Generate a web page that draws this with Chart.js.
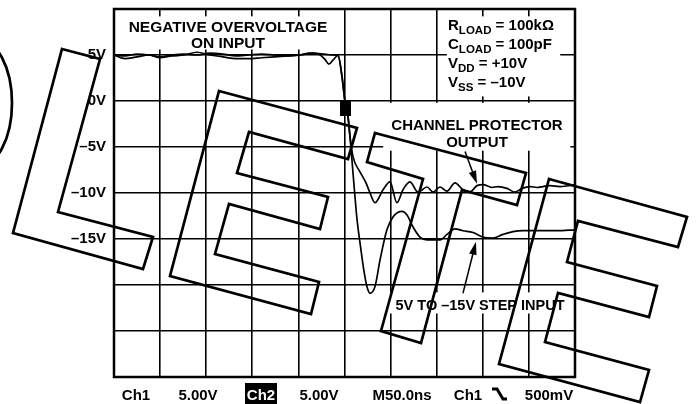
<!DOCTYPE html>
<html>
<head>
<meta charset="utf-8">
<script src="https://cdn.jsdelivr.net/npm/chart.js@4"></script>
<style>
body { margin: 0; background: #fff; }
</style>
</head>
<body>
<canvas id="scope" width="697" height="404"></canvas>
<script>
// scope trace, 50 ns/div across, 5 V/div up
var inputTimes = [0, 12, 25, 38, 50, 63, 76, 90, 104, 118, 132, 146, 160, 174, 188, 202, 216, 228, 238, 243,
  247.3, 250.5, 253.8, 256, 259.2, 263.6, 266.8, 271, 274.4, 277.7, 283, 288.5, 296, 302.6, 312.4, 317.8,
  324.3, 331.9, 339.5, 353.6, 361.2, 369.8, 378.5, 389.4, 400.2, 411, 422, 432.8, 443.6, 462, 480.5, 500];
var inputVolts = [5.0, 4.9, 5.1, 5.0, 4.8, 5.0, 5.1, 5.0, 5.2, 5.1, 4.9, 5.0, 5.1, 5.0, 4.9, 5.0, 5.2, 5.1, 5.0, 4.95,
  2.65, -0.07, -1.7, -3.9, -7.8, -12.9, -15.4, -18.4, -20.2, -20.9, -20.2, -17.3, -14.0, -12.6, -12.0, -12.4,
  -13.7, -14.8, -15.1, -15.1, -14.5, -13.9, -14.1, -14.3, -14.8, -14.9, -14.5, -14.2, -14.1, -14.1, -14.1, -14.0];

var outputTimes = [0, 12, 25, 38, 50, 63, 76, 90, 104, 118, 132, 146, 160, 174, 188, 202, 212, 222, 229, 233,
  238, 243, 247.3, 250.5, 253.8, 256, 259.2, 266.8, 273.3, 277.7, 283, 291.8, 299.3, 306.9, 313.4, 321,
  329.7, 339.5, 346, 353.6, 361.2, 369.8, 378.5, 386, 393.7, 400.2, 410, 416.5, 426.2, 434.9,
  442.5, 451.2, 458.8, 465.3, 472.9, 483.7, 500];
var outputVolts = [5.0, 4.6, 4.8, 5.0, 4.7, 4.9, 5.0, 5.3, 5.0, 4.8, 4.6, 4.6, 4.7, 4.8, 4.9, 5.0, 5.2, 5.1, 4.5, 4.0,
  4.5, 4.95, 2.65, -0.07, -1.7, -3.9, -6.05, -7.7, -8.9, -10.0, -11.06, -9.65, -8.8, -11.06, -9.65, -8.8,
  -9.9, -9.35, -9.9, -9.35, -9.8, -8.9, -9.65, -9.9, -9.2, -9.1, -9.4, -9.3, -9.5, -9.9,
  -9.5, -9.3, -9.4, -9.3, -9.2, -9.3, -9.1];

var triggerTimes = [251];
var triggerVolts = [-0.8];

var tickLabels = { '5': '5V', '0': '0V', '-5': '–5V', '-10': '–10V', '-15': '–15V' };

var FONT = '"Liberation Sans", Arial, Helvetica, sans-serif';

function pairs(xs, ys) {
  return xs.map(function (x, i) { return { x: x, y: ys[i] }; });
}

// trigger marker: small filled block
var marker = document.createElement('canvas');
marker.width = 11;
marker.height = 15;
var mctx = marker.getContext('2d');
mctx.fillStyle = '#000';
mctx.fillRect(0, 0, 11, 15);

// white patches behind the labels (t0, v0, t1, v1)
var patches = [[10, 9.2, 240, 5.6], [361, 9.2, 484, 0.5], [292, -0.2, 495, -5.4], [296, -20.8, 497, -23.1]];

var notes = [
  { t: 123.6, v: 7.55, text: 'NEGATIVE OVERVOLTAGE', size: 15.5 },
  { t: 123.6, v: 5.8, text: 'ON INPUT', size: 15.5 },
  { t: 393.7, v: -3.1, text: 'CHANNEL PROTECTOR', size: 15 },
  { t: 393.7, v: -5.0, text: 'OUTPUT', size: 15 },
  { t: 397, v: -22.7, text: '5V TO –15V STEP INPUT', size: 14.5 }
];

var conditions = [['R', 'LOAD', ' = 100kΩ'], ['C', 'LOAD', ' = 100pF'], ['V', 'DD', ' = +10V'], ['V', 'SS', ' = –10V']];
var conditionsT = 362.3;
var conditionsV = [7.77, 5.7, 3.63, 1.56];

var arrows = [
  { from: [380.7, -5.5], to: [393.7, -9.0] },
  { from: [378.5, -20.9], to: [392.6, -15.3] }
];

function toPx(chart, t, v) {
  return [chart.scales.x.getPixelForValue(t), chart.scales.y.getPixelForValue(v)];
}

var scopeDecor = {
  id: 'scopeDecor',
  beforeDatasetsDraw: function (chart) {
    var ctx = chart.ctx, a = chart.chartArea;
    ctx.save();
    ctx.fillStyle = '#fff';
    patches.forEach(function (p) {
      var p0 = toPx(chart, p[0], p[1]), p1 = toPx(chart, p[2], p[3]);
      ctx.fillRect(p0[0], p0[1], p1[0] - p0[0], p1[1] - p0[1]);
    });
    ctx.strokeStyle = '#000';
    ctx.lineWidth = 2.5;
    ctx.strokeRect(a.left, a.top, a.right - a.left, a.bottom - a.top);
    ctx.restore();
  },
  afterDatasetsDraw: function (chart) {
    var ctx = chart.ctx;
    ctx.save();
    ctx.fillStyle = '#000';
    ctx.textBaseline = 'alphabetic';
    ctx.textAlign = 'center';
    notes.forEach(function (n) {
      var p = toPx(chart, n.t, n.v);
      ctx.font = 'bold ' + n.size + 'px ' + FONT;
      ctx.fillText(n.text, p[0], p[1]);
    });

    ctx.textAlign = 'left';
    conditions.forEach(function (parts, i) {
      var p = toPx(chart, conditionsT, conditionsV[i]);
      var x = p[0];
      ctx.font = 'bold 15px ' + FONT;
      ctx.fillText(parts[0], x, p[1]);
      x += ctx.measureText(parts[0]).width;
      ctx.font = 'bold 11.5px ' + FONT;
      ctx.fillText(parts[1], x, p[1] + 4);
      x += ctx.measureText(parts[1]).width;
      ctx.font = 'bold 15px ' + FONT;
      ctx.fillText(parts[2], x, p[1]);
    });

    ctx.strokeStyle = '#000';
    ctx.lineWidth = 1.5;
    arrows.forEach(function (ar) {
      var a = toPx(chart, ar.from[0], ar.from[1]), b = toPx(chart, ar.to[0], ar.to[1]);
      var ang = Math.atan2(b[1] - a[1], b[0] - a[0]);
      ctx.beginPath();
      ctx.moveTo(a[0], a[1]);
      ctx.lineTo(b[0] - 8 * Math.cos(ang), b[1] - 8 * Math.sin(ang));
      ctx.stroke();
      ctx.beginPath();
      ctx.moveTo(b[0], b[1]);
      ctx.lineTo(b[0] - 13 * Math.cos(ang) + 3.8 * Math.sin(ang), b[1] - 13 * Math.sin(ang) - 3.8 * Math.cos(ang));
      ctx.lineTo(b[0] - 13 * Math.cos(ang) - 3.8 * Math.sin(ang), b[1] - 13 * Math.sin(ang) + 3.8 * Math.cos(ang));
      ctx.closePath();
      ctx.fill();
    });
    ctx.restore();
  },
  afterDraw: function (chart) {
    var ctx = chart.ctx;
    ctx.save();
    // readout line under the screen
    ctx.font = 'bold 15px ' + FONT;
    ctx.textAlign = 'center';
    ctx.textBaseline = 'alphabetic';
    ctx.fillStyle = '#000';
    ctx.fillRect(245, 383, 32, 21);
    [['Ch1', 136], ['5.00V', 198], ['Ch2', 261], ['5.00V', 319], ['M50.0ns', 402], ['Ch1', 468], ['500mV', 549]]
      .forEach(function (r) {
        ctx.fillStyle = r[0] === 'Ch2' ? '#fff' : '#000';
        ctx.fillText(r[0], r[1], 400);
      });
    ctx.strokeStyle = '#000';
    ctx.lineWidth = 3;
    ctx.beginPath();
    ctx.moveTo(492, 389);
    ctx.lineTo(497, 389);
    ctx.lineTo(503, 399);
    ctx.lineTo(507, 399);
    ctx.stroke();

    // stamp outline over the whole sheet
    var stamp = [
      [[62, 49], [100, 59], [58, 212], [153, 237], [143, 269], [13, 233]],
      [[219, 91], [357, 128], [348, 159], [249, 132], [237, 173], [328, 197], [320, 229], [229, 204],
        [215, 254], [319, 282], [311, 314], [170, 276]],
      [[375, 133], [526, 173], [517, 205], [462, 190], [421, 343], [381, 331], [423, 179], [367, 162]],
      [[549, 179], [687, 217], [678, 247], [578, 221], [567, 262], [657, 286], [649, 317], [558, 293],
        [545, 342], [649, 370], [640, 402], [499, 364]]
    ];
    ctx.lineWidth = 2.7;
    ctx.lineJoin = 'miter';
    stamp.forEach(function (poly) {
      ctx.beginPath();
      poly.forEach(function (pt, i) {
        if (i === 0) ctx.moveTo(pt[0], pt[1]); else ctx.lineTo(pt[0], pt[1]);
      });
      ctx.closePath();
      ctx.stroke();
    });
    ctx.beginPath();
    ctx.ellipse(-22, 103, 34, 64, 0, 0, Math.PI * 2);
    ctx.stroke();
    ctx.restore();
  }
};

var ctx = document.getElementById('scope').getContext('2d');
var scopeChart = new Chart(ctx, {
  type: 'line',
  data: {
    datasets: [{
      label: 'Step input',
      data: pairs(inputTimes, inputVolts),
      borderColor: '#000',
      borderWidth: 1.7,
      pointRadius: 0,
      cubicInterpolationMode: 'monotone'
    }, {
      label: 'Channel protector output',
      data: pairs(outputTimes, outputVolts),
      borderColor: '#000',
      borderWidth: 1.7,
      pointRadius: 0,
      cubicInterpolationMode: 'monotone'
    }, {
      label: 'Trigger',
      data: pairs(triggerTimes, triggerVolts),
      showLine: false,
      pointStyle: marker,
      pointRadius: 6
    }]
  },
  options: {
    responsive: false,
    animation: false,
    layout: { padding: { left: 0, top: 9, right: 122, bottom: 27 } },
    plugins: { legend: { display: false }, tooltip: { enabled: false } },
    scales: {
      x: {
        type: 'linear',
        min: 0,
        max: 500,
        ticks: { display: false, stepSize: 50 },
        grid: { color: '#000', lineWidth: 1.6, drawTicks: false },
        border: { display: false },
        afterFit: function (s) { s.height = 0; s.paddingLeft = 0; s.paddingRight = 0; }
      },
      y: {
        min: -30,
        max: 10,
        ticks: {
          stepSize: 5,
          padding: 8,
          color: '#000',
          font: { family: FONT, size: 15, weight: 'bold' },
          callback: function (v) { return tickLabels[v] || ''; }
        },
        grid: { color: '#000', lineWidth: 1.6, drawTicks: false },
        border: { display: false },
        afterFit: function (s) { s.width = 114; s.paddingTop = 0; s.paddingBottom = 0; }
      }
    }
  },
  plugins: [scopeDecor]
});
</script>
</body>
</html>
